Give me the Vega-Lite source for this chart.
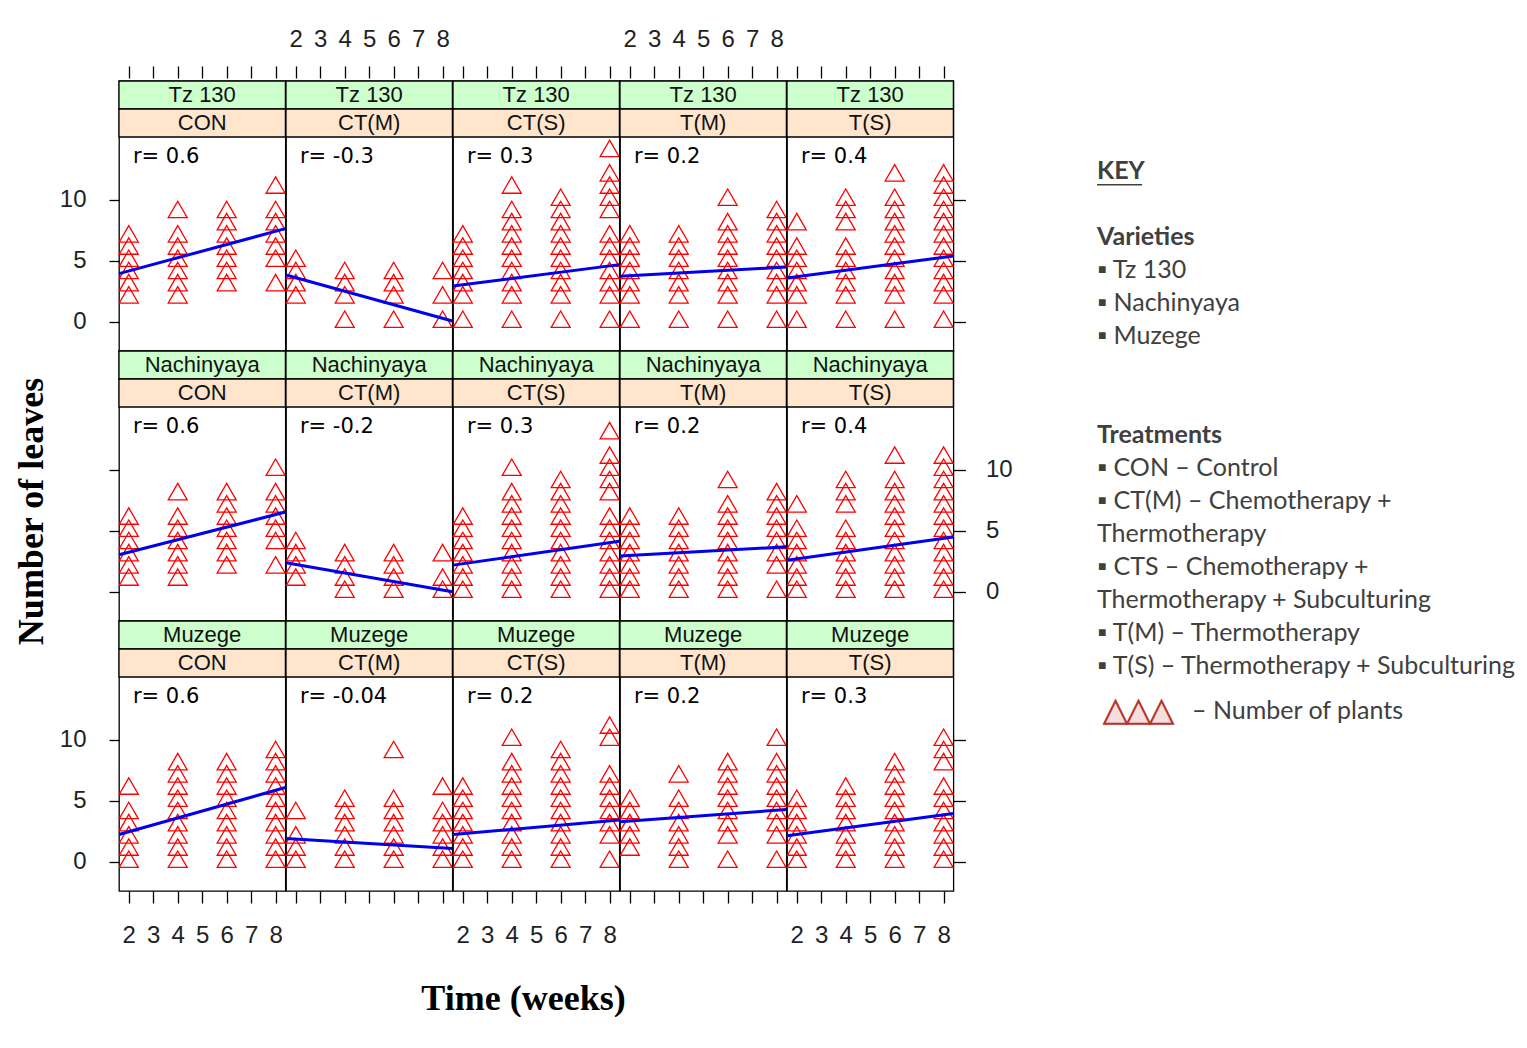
{
"$schema":"https://vega.github.io/schema/vega-lite/v6.json",
"background":"white",
"padding":{"left":12,"top":26,"right":0,"bottom":0},
"spacing":83,
"hconcat":[
{"columns":5,"spacing":0,"bounds":"flush","concat":[
  {"width":166.4,"height":270,"resolve":{"axis":{"x":"independent","y":"independent"}},"layer":[
   {"data":{"values":[{"variety":"Tz 130","treatment":"CON","r":"r= 0.6"}]},"layer":[
    {"mark":{"type":"rect","fill":"#ccffcc","stroke":"#000000","strokeWidth":1.3},"encoding":{"x":{"datum":1.6,"type":"quantitative","axis":null},"x2":{"datum":8.4},"y":{"datum":17.455,"type":"quantitative","axis":null},"y2":{"datum":19.75}}},
    {"mark":{"type":"rect","fill":"#ffe5cc","stroke":"#000000","strokeWidth":1.3},"encoding":{"x":{"datum":1.6,"type":"quantitative","axis":null},"x2":{"datum":8.4},"y":{"datum":15.16,"type":"quantitative","axis":null},"y2":{"datum":17.455}}},
    {"mark":{"type":"text","font":"Liberation Sans","fontSize":22,"color":"#111111","align":"center","baseline":"middle"},"encoding":{"x":{"datum":5,"type":"quantitative","axis":null},"y":{"datum":18.6,"type":"quantitative","axis":null},"text":{"field":"variety"}}},
    {"mark":{"type":"text","font":"Liberation Sans","fontSize":22,"color":"#111111","align":"center","baseline":"middle"},"encoding":{"x":{"datum":5,"type":"quantitative","axis":null},"y":{"datum":16.3,"type":"quantitative","axis":null},"text":{"field":"treatment"}}},
    {"mark":{"type":"text","font":"DejaVu Sans","fontSize":21,"color":"#000000","align":"left","baseline":"middle"},"encoding":{"x":{"datum":2.17,"type":"quantitative","axis":null},"y":{"datum":13.5,"type":"quantitative","axis":null},"text":{"field":"r"}}}
   ]},
   {"data":{"values":[{"week":2,"leaves":2},{"week":2,"leaves":3},{"week":2,"leaves":4},{"week":2,"leaves":5},{"week":2,"leaves":6},{"week":2,"leaves":7},{"week":4,"leaves":2},{"week":4,"leaves":3},{"week":4,"leaves":4},{"week":4,"leaves":5},{"week":4,"leaves":6},{"week":4,"leaves":7},{"week":4,"leaves":9},{"week":6,"leaves":3},{"week":6,"leaves":4},{"week":6,"leaves":5},{"week":6,"leaves":6},{"week":6,"leaves":7},{"week":6,"leaves":8},{"week":6,"leaves":9},{"week":8,"leaves":3},{"week":8,"leaves":5},{"week":8,"leaves":6},{"week":8,"leaves":7},{"week":8,"leaves":8},{"week":8,"leaves":9},{"week":8,"leaves":11}]},
    "mark":{"type":"point","shape":"M0,-1L0.866,0.5L-0.866,0.5Z","size":480,"filled":false,"color":"#ff0000","strokeWidth":1.3,"opacity":1},
    "encoding":{"x":{"field":"week","type":"quantitative","title":null,"scale":{"domain":[1.6,8.4],"nice":false,"zero":false},"axis":{"orient":"top","values":[2,3,4,5,6,7,8],"tickSize":12,"offset":3,"labels":false}},
     "y":{"field":"leaves","type":"quantitative","title":null,"scale":{"domain":[-2.38,19.75],"nice":false,"zero":false},"axis":{"orient":"left","values":[0,5,10],"tickSize":10,"labelPadding":23}}}},
   {"data":{"values":[{"week":1.6,"fit":3.96},{"week":8.4,"fit":7.65}]},"mark":{"type":"line","color":"#0000ee","strokeWidth":3},"encoding":{"x":{"field":"week","type":"quantitative","axis":null},"y":{"field":"fit","type":"quantitative","axis":null}}}
  ]},
  {"width":166.4,"height":270,"resolve":{"axis":{"x":"independent","y":"independent"}},"layer":[
   {"data":{"values":[{"variety":"Tz 130","treatment":"CT(M)","r":"r= -0.3"}]},"layer":[
    {"mark":{"type":"rect","fill":"#ccffcc","stroke":"#000000","strokeWidth":1.3},"encoding":{"x":{"datum":1.6,"type":"quantitative","axis":null},"x2":{"datum":8.4},"y":{"datum":17.455,"type":"quantitative","axis":null},"y2":{"datum":19.75}}},
    {"mark":{"type":"rect","fill":"#ffe5cc","stroke":"#000000","strokeWidth":1.3},"encoding":{"x":{"datum":1.6,"type":"quantitative","axis":null},"x2":{"datum":8.4},"y":{"datum":15.16,"type":"quantitative","axis":null},"y2":{"datum":17.455}}},
    {"mark":{"type":"text","font":"Liberation Sans","fontSize":22,"color":"#111111","align":"center","baseline":"middle"},"encoding":{"x":{"datum":5,"type":"quantitative","axis":null},"y":{"datum":18.6,"type":"quantitative","axis":null},"text":{"field":"variety"}}},
    {"mark":{"type":"text","font":"Liberation Sans","fontSize":22,"color":"#111111","align":"center","baseline":"middle"},"encoding":{"x":{"datum":5,"type":"quantitative","axis":null},"y":{"datum":16.3,"type":"quantitative","axis":null},"text":{"field":"treatment"}}},
    {"mark":{"type":"text","font":"DejaVu Sans","fontSize":21,"color":"#000000","align":"left","baseline":"middle"},"encoding":{"x":{"datum":2.17,"type":"quantitative","axis":null},"y":{"datum":13.5,"type":"quantitative","axis":null},"text":{"field":"r"}}}
   ]},
   {"data":{"values":[{"week":2,"leaves":2},{"week":2,"leaves":3},{"week":2,"leaves":4},{"week":2,"leaves":5},{"week":4,"leaves":0},{"week":4,"leaves":2},{"week":4,"leaves":3},{"week":4,"leaves":4},{"week":6,"leaves":0},{"week":6,"leaves":2},{"week":6,"leaves":3},{"week":6,"leaves":4},{"week":8,"leaves":0},{"week":8,"leaves":2},{"week":8,"leaves":4}]},
    "mark":{"type":"point","shape":"M0,-1L0.866,0.5L-0.866,0.5Z","size":480,"filled":false,"color":"#ff0000","strokeWidth":1.3,"opacity":1},
    "encoding":{"x":{"field":"week","type":"quantitative","title":null,"scale":{"domain":[1.6,8.4],"nice":false,"zero":false},"axis":{"orient":"top","values":[2,3,4,5,6,7,8],"tickSize":12,"offset":3,"labelPadding":15}},
     "y":{"field":"leaves","type":"quantitative","title":null,"scale":{"domain":[-2.38,19.75],"nice":false,"zero":false},"axis":null}}},
   {"data":{"values":[{"week":1.6,"fit":3.85},{"week":8.4,"fit":0.08}]},"mark":{"type":"line","color":"#0000ee","strokeWidth":3},"encoding":{"x":{"field":"week","type":"quantitative","axis":null},"y":{"field":"fit","type":"quantitative","axis":null}}}
  ]},
  {"width":166.4,"height":270,"resolve":{"axis":{"x":"independent","y":"independent"}},"layer":[
   {"data":{"values":[{"variety":"Tz 130","treatment":"CT(S)","r":"r= 0.3"}]},"layer":[
    {"mark":{"type":"rect","fill":"#ccffcc","stroke":"#000000","strokeWidth":1.3},"encoding":{"x":{"datum":1.6,"type":"quantitative","axis":null},"x2":{"datum":8.4},"y":{"datum":17.455,"type":"quantitative","axis":null},"y2":{"datum":19.75}}},
    {"mark":{"type":"rect","fill":"#ffe5cc","stroke":"#000000","strokeWidth":1.3},"encoding":{"x":{"datum":1.6,"type":"quantitative","axis":null},"x2":{"datum":8.4},"y":{"datum":15.16,"type":"quantitative","axis":null},"y2":{"datum":17.455}}},
    {"mark":{"type":"text","font":"Liberation Sans","fontSize":22,"color":"#111111","align":"center","baseline":"middle"},"encoding":{"x":{"datum":5,"type":"quantitative","axis":null},"y":{"datum":18.6,"type":"quantitative","axis":null},"text":{"field":"variety"}}},
    {"mark":{"type":"text","font":"Liberation Sans","fontSize":22,"color":"#111111","align":"center","baseline":"middle"},"encoding":{"x":{"datum":5,"type":"quantitative","axis":null},"y":{"datum":16.3,"type":"quantitative","axis":null},"text":{"field":"treatment"}}},
    {"mark":{"type":"text","font":"DejaVu Sans","fontSize":21,"color":"#000000","align":"left","baseline":"middle"},"encoding":{"x":{"datum":2.17,"type":"quantitative","axis":null},"y":{"datum":13.5,"type":"quantitative","axis":null},"text":{"field":"r"}}}
   ]},
   {"data":{"values":[{"week":2,"leaves":0},{"week":2,"leaves":2},{"week":2,"leaves":3},{"week":2,"leaves":4},{"week":2,"leaves":5},{"week":2,"leaves":6},{"week":2,"leaves":7},{"week":4,"leaves":0},{"week":4,"leaves":2},{"week":4,"leaves":3},{"week":4,"leaves":4},{"week":4,"leaves":5},{"week":4,"leaves":6},{"week":4,"leaves":7},{"week":4,"leaves":8},{"week":4,"leaves":9},{"week":4,"leaves":11},{"week":6,"leaves":0},{"week":6,"leaves":2},{"week":6,"leaves":3},{"week":6,"leaves":4},{"week":6,"leaves":5},{"week":6,"leaves":6},{"week":6,"leaves":7},{"week":6,"leaves":8},{"week":6,"leaves":9},{"week":6,"leaves":10},{"week":8,"leaves":0},{"week":8,"leaves":2},{"week":8,"leaves":3},{"week":8,"leaves":4},{"week":8,"leaves":5},{"week":8,"leaves":6},{"week":8,"leaves":7},{"week":8,"leaves":9},{"week":8,"leaves":10},{"week":8,"leaves":11},{"week":8,"leaves":12},{"week":8,"leaves":14}]},
    "mark":{"type":"point","shape":"M0,-1L0.866,0.5L-0.866,0.5Z","size":480,"filled":false,"color":"#ff0000","strokeWidth":1.3,"opacity":1},
    "encoding":{"x":{"field":"week","type":"quantitative","title":null,"scale":{"domain":[1.6,8.4],"nice":false,"zero":false},"axis":{"orient":"top","values":[2,3,4,5,6,7,8],"tickSize":12,"offset":3,"labels":false}},
     "y":{"field":"leaves","type":"quantitative","title":null,"scale":{"domain":[-2.38,19.75],"nice":false,"zero":false},"axis":null}}},
   {"data":{"values":[{"week":1.6,"fit":2.95},{"week":8.4,"fit":4.7}]},"mark":{"type":"line","color":"#0000ee","strokeWidth":3},"encoding":{"x":{"field":"week","type":"quantitative","axis":null},"y":{"field":"fit","type":"quantitative","axis":null}}}
  ]},
  {"width":166.4,"height":270,"resolve":{"axis":{"x":"independent","y":"independent"}},"layer":[
   {"data":{"values":[{"variety":"Tz 130","treatment":"T(M)","r":"r= 0.2"}]},"layer":[
    {"mark":{"type":"rect","fill":"#ccffcc","stroke":"#000000","strokeWidth":1.3},"encoding":{"x":{"datum":1.6,"type":"quantitative","axis":null},"x2":{"datum":8.4},"y":{"datum":17.455,"type":"quantitative","axis":null},"y2":{"datum":19.75}}},
    {"mark":{"type":"rect","fill":"#ffe5cc","stroke":"#000000","strokeWidth":1.3},"encoding":{"x":{"datum":1.6,"type":"quantitative","axis":null},"x2":{"datum":8.4},"y":{"datum":15.16,"type":"quantitative","axis":null},"y2":{"datum":17.455}}},
    {"mark":{"type":"text","font":"Liberation Sans","fontSize":22,"color":"#111111","align":"center","baseline":"middle"},"encoding":{"x":{"datum":5,"type":"quantitative","axis":null},"y":{"datum":18.6,"type":"quantitative","axis":null},"text":{"field":"variety"}}},
    {"mark":{"type":"text","font":"Liberation Sans","fontSize":22,"color":"#111111","align":"center","baseline":"middle"},"encoding":{"x":{"datum":5,"type":"quantitative","axis":null},"y":{"datum":16.3,"type":"quantitative","axis":null},"text":{"field":"treatment"}}},
    {"mark":{"type":"text","font":"DejaVu Sans","fontSize":21,"color":"#000000","align":"left","baseline":"middle"},"encoding":{"x":{"datum":2.17,"type":"quantitative","axis":null},"y":{"datum":13.5,"type":"quantitative","axis":null},"text":{"field":"r"}}}
   ]},
   {"data":{"values":[{"week":2,"leaves":0},{"week":2,"leaves":2},{"week":2,"leaves":3},{"week":2,"leaves":4},{"week":2,"leaves":5},{"week":2,"leaves":6},{"week":2,"leaves":7},{"week":4,"leaves":0},{"week":4,"leaves":2},{"week":4,"leaves":3},{"week":4,"leaves":4},{"week":4,"leaves":5},{"week":4,"leaves":6},{"week":4,"leaves":7},{"week":6,"leaves":0},{"week":6,"leaves":2},{"week":6,"leaves":3},{"week":6,"leaves":4},{"week":6,"leaves":5},{"week":6,"leaves":6},{"week":6,"leaves":7},{"week":6,"leaves":8},{"week":6,"leaves":10},{"week":8,"leaves":0},{"week":8,"leaves":2},{"week":8,"leaves":3},{"week":8,"leaves":4},{"week":8,"leaves":5},{"week":8,"leaves":6},{"week":8,"leaves":7},{"week":8,"leaves":8},{"week":8,"leaves":9}]},
    "mark":{"type":"point","shape":"M0,-1L0.866,0.5L-0.866,0.5Z","size":480,"filled":false,"color":"#ff0000","strokeWidth":1.3,"opacity":1},
    "encoding":{"x":{"field":"week","type":"quantitative","title":null,"scale":{"domain":[1.6,8.4],"nice":false,"zero":false},"axis":{"orient":"top","values":[2,3,4,5,6,7,8],"tickSize":12,"offset":3,"labelPadding":15}},
     "y":{"field":"leaves","type":"quantitative","title":null,"scale":{"domain":[-2.38,19.75],"nice":false,"zero":false},"axis":null}}},
   {"data":{"values":[{"week":1.6,"fit":3.75},{"week":8.4,"fit":4.5}]},"mark":{"type":"line","color":"#0000ee","strokeWidth":3},"encoding":{"x":{"field":"week","type":"quantitative","axis":null},"y":{"field":"fit","type":"quantitative","axis":null}}}
  ]},
  {"width":166.4,"height":270,"resolve":{"axis":{"x":"independent","y":"independent"}},"layer":[
   {"data":{"values":[{"variety":"Tz 130","treatment":"T(S)","r":"r= 0.4"}]},"layer":[
    {"mark":{"type":"rect","fill":"#ccffcc","stroke":"#000000","strokeWidth":1.3},"encoding":{"x":{"datum":1.6,"type":"quantitative","axis":null},"x2":{"datum":8.4},"y":{"datum":17.455,"type":"quantitative","axis":null},"y2":{"datum":19.75}}},
    {"mark":{"type":"rect","fill":"#ffe5cc","stroke":"#000000","strokeWidth":1.3},"encoding":{"x":{"datum":1.6,"type":"quantitative","axis":null},"x2":{"datum":8.4},"y":{"datum":15.16,"type":"quantitative","axis":null},"y2":{"datum":17.455}}},
    {"mark":{"type":"text","font":"Liberation Sans","fontSize":22,"color":"#111111","align":"center","baseline":"middle"},"encoding":{"x":{"datum":5,"type":"quantitative","axis":null},"y":{"datum":18.6,"type":"quantitative","axis":null},"text":{"field":"variety"}}},
    {"mark":{"type":"text","font":"Liberation Sans","fontSize":22,"color":"#111111","align":"center","baseline":"middle"},"encoding":{"x":{"datum":5,"type":"quantitative","axis":null},"y":{"datum":16.3,"type":"quantitative","axis":null},"text":{"field":"treatment"}}},
    {"mark":{"type":"text","font":"DejaVu Sans","fontSize":21,"color":"#000000","align":"left","baseline":"middle"},"encoding":{"x":{"datum":2.17,"type":"quantitative","axis":null},"y":{"datum":13.5,"type":"quantitative","axis":null},"text":{"field":"r"}}}
   ]},
   {"data":{"values":[{"week":2,"leaves":0},{"week":2,"leaves":2},{"week":2,"leaves":3},{"week":2,"leaves":4},{"week":2,"leaves":5},{"week":2,"leaves":6},{"week":2,"leaves":8},{"week":4,"leaves":0},{"week":4,"leaves":2},{"week":4,"leaves":3},{"week":4,"leaves":4},{"week":4,"leaves":5},{"week":4,"leaves":6},{"week":4,"leaves":8},{"week":4,"leaves":9},{"week":4,"leaves":10},{"week":6,"leaves":0},{"week":6,"leaves":2},{"week":6,"leaves":3},{"week":6,"leaves":4},{"week":6,"leaves":5},{"week":6,"leaves":6},{"week":6,"leaves":7},{"week":6,"leaves":8},{"week":6,"leaves":9},{"week":6,"leaves":10},{"week":6,"leaves":12},{"week":8,"leaves":0},{"week":8,"leaves":2},{"week":8,"leaves":3},{"week":8,"leaves":4},{"week":8,"leaves":5},{"week":8,"leaves":6},{"week":8,"leaves":7},{"week":8,"leaves":8},{"week":8,"leaves":9},{"week":8,"leaves":10},{"week":8,"leaves":11},{"week":8,"leaves":12}]},
    "mark":{"type":"point","shape":"M0,-1L0.866,0.5L-0.866,0.5Z","size":480,"filled":false,"color":"#ff0000","strokeWidth":1.3,"opacity":1},
    "encoding":{"x":{"field":"week","type":"quantitative","title":null,"scale":{"domain":[1.6,8.4],"nice":false,"zero":false},"axis":{"orient":"top","values":[2,3,4,5,6,7,8],"tickSize":12,"offset":3,"labels":false}},
     "y":{"field":"leaves","type":"quantitative","title":null,"scale":{"domain":[-2.38,19.75],"nice":false,"zero":false},"axis":{"orient":"right","values":[0,5,10],"tickSize":12,"labels":false}}}},
   {"data":{"values":[{"week":1.6,"fit":3.6},{"week":8.4,"fit":5.4}]},"mark":{"type":"line","color":"#0000ee","strokeWidth":3},"encoding":{"x":{"field":"week","type":"quantitative","axis":null},"y":{"field":"fit","type":"quantitative","axis":null}}}
  ]},
  {"width":166.4,"height":270,"resolve":{"axis":{"x":"independent","y":"independent"}},"layer":[
   {"data":{"values":[{"variety":"Nachinyaya","treatment":"CON","r":"r= 0.6"}]},"layer":[
    {"mark":{"type":"rect","fill":"#ccffcc","stroke":"#000000","strokeWidth":1.3},"encoding":{"x":{"datum":1.6,"type":"quantitative","axis":null},"x2":{"datum":8.4},"y":{"datum":17.455,"type":"quantitative","axis":null},"y2":{"datum":19.75}}},
    {"mark":{"type":"rect","fill":"#ffe5cc","stroke":"#000000","strokeWidth":1.3},"encoding":{"x":{"datum":1.6,"type":"quantitative","axis":null},"x2":{"datum":8.4},"y":{"datum":15.16,"type":"quantitative","axis":null},"y2":{"datum":17.455}}},
    {"mark":{"type":"text","font":"Liberation Sans","fontSize":22,"color":"#111111","align":"center","baseline":"middle"},"encoding":{"x":{"datum":5,"type":"quantitative","axis":null},"y":{"datum":18.6,"type":"quantitative","axis":null},"text":{"field":"variety"}}},
    {"mark":{"type":"text","font":"Liberation Sans","fontSize":22,"color":"#111111","align":"center","baseline":"middle"},"encoding":{"x":{"datum":5,"type":"quantitative","axis":null},"y":{"datum":16.3,"type":"quantitative","axis":null},"text":{"field":"treatment"}}},
    {"mark":{"type":"text","font":"DejaVu Sans","fontSize":21,"color":"#000000","align":"left","baseline":"middle"},"encoding":{"x":{"datum":2.17,"type":"quantitative","axis":null},"y":{"datum":13.5,"type":"quantitative","axis":null},"text":{"field":"r"}}}
   ]},
   {"data":{"values":[{"week":2,"leaves":1},{"week":2,"leaves":2},{"week":2,"leaves":3},{"week":2,"leaves":4},{"week":2,"leaves":5},{"week":2,"leaves":6},{"week":4,"leaves":1},{"week":4,"leaves":2},{"week":4,"leaves":3},{"week":4,"leaves":4},{"week":4,"leaves":5},{"week":4,"leaves":6},{"week":4,"leaves":8},{"week":6,"leaves":2},{"week":6,"leaves":3},{"week":6,"leaves":4},{"week":6,"leaves":5},{"week":6,"leaves":6},{"week":6,"leaves":7},{"week":6,"leaves":8},{"week":8,"leaves":2},{"week":8,"leaves":4},{"week":8,"leaves":5},{"week":8,"leaves":6},{"week":8,"leaves":7},{"week":8,"leaves":8},{"week":8,"leaves":10}]},
    "mark":{"type":"point","shape":"M0,-1L0.866,0.5L-0.866,0.5Z","size":480,"filled":false,"color":"#ff0000","strokeWidth":1.3,"opacity":1},
    "encoding":{"x":{"field":"week","type":"quantitative","title":null,"scale":{"domain":[1.6,8.4],"nice":false,"zero":false},"axis":null},
     "y":{"field":"leaves","type":"quantitative","title":null,"scale":{"domain":[-2.38,19.75],"nice":false,"zero":false},"axis":{"orient":"left","values":[0,5,10],"tickSize":10,"labels":false,"title":"Number of leaves","titleFont":"Liberation Serif","titleFontSize":36,"titleFontWeight":"bold","titleColor":"#000000","titleX":-88,"titleY":160,"titleAngle":-90,"titleAlign":"center","titleBaseline":"middle"}}}},
   {"data":{"values":[{"week":1.6,"fit":3.05},{"week":8.4,"fit":6.55}]},"mark":{"type":"line","color":"#0000ee","strokeWidth":3},"encoding":{"x":{"field":"week","type":"quantitative","axis":null},"y":{"field":"fit","type":"quantitative","axis":null}}}
  ]},
  {"width":166.4,"height":270,"resolve":{"axis":{"x":"independent","y":"independent"}},"layer":[
   {"data":{"values":[{"variety":"Nachinyaya","treatment":"CT(M)","r":"r= -0.2"}]},"layer":[
    {"mark":{"type":"rect","fill":"#ccffcc","stroke":"#000000","strokeWidth":1.3},"encoding":{"x":{"datum":1.6,"type":"quantitative","axis":null},"x2":{"datum":8.4},"y":{"datum":17.455,"type":"quantitative","axis":null},"y2":{"datum":19.75}}},
    {"mark":{"type":"rect","fill":"#ffe5cc","stroke":"#000000","strokeWidth":1.3},"encoding":{"x":{"datum":1.6,"type":"quantitative","axis":null},"x2":{"datum":8.4},"y":{"datum":15.16,"type":"quantitative","axis":null},"y2":{"datum":17.455}}},
    {"mark":{"type":"text","font":"Liberation Sans","fontSize":22,"color":"#111111","align":"center","baseline":"middle"},"encoding":{"x":{"datum":5,"type":"quantitative","axis":null},"y":{"datum":18.6,"type":"quantitative","axis":null},"text":{"field":"variety"}}},
    {"mark":{"type":"text","font":"Liberation Sans","fontSize":22,"color":"#111111","align":"center","baseline":"middle"},"encoding":{"x":{"datum":5,"type":"quantitative","axis":null},"y":{"datum":16.3,"type":"quantitative","axis":null},"text":{"field":"treatment"}}},
    {"mark":{"type":"text","font":"DejaVu Sans","fontSize":21,"color":"#000000","align":"left","baseline":"middle"},"encoding":{"x":{"datum":2.17,"type":"quantitative","axis":null},"y":{"datum":13.5,"type":"quantitative","axis":null},"text":{"field":"r"}}}
   ]},
   {"data":{"values":[{"week":2,"leaves":1},{"week":2,"leaves":2},{"week":2,"leaves":3},{"week":2,"leaves":4},{"week":4,"leaves":0},{"week":4,"leaves":1},{"week":4,"leaves":2},{"week":4,"leaves":3},{"week":6,"leaves":0},{"week":6,"leaves":1},{"week":6,"leaves":2},{"week":6,"leaves":3},{"week":8,"leaves":0},{"week":8,"leaves":1},{"week":8,"leaves":3}]},
    "mark":{"type":"point","shape":"M0,-1L0.866,0.5L-0.866,0.5Z","size":480,"filled":false,"color":"#ff0000","strokeWidth":1.3,"opacity":1},
    "encoding":{"x":{"field":"week","type":"quantitative","title":null,"scale":{"domain":[1.6,8.4],"nice":false,"zero":false},"axis":null},
     "y":{"field":"leaves","type":"quantitative","title":null,"scale":{"domain":[-2.38,19.75],"nice":false,"zero":false},"axis":null}}},
   {"data":{"values":[{"week":1.6,"fit":2.4},{"week":8.4,"fit":0.02}]},"mark":{"type":"line","color":"#0000ee","strokeWidth":3},"encoding":{"x":{"field":"week","type":"quantitative","axis":null},"y":{"field":"fit","type":"quantitative","axis":null}}}
  ]},
  {"width":166.4,"height":270,"resolve":{"axis":{"x":"independent","y":"independent"}},"layer":[
   {"data":{"values":[{"variety":"Nachinyaya","treatment":"CT(S)","r":"r= 0.3"}]},"layer":[
    {"mark":{"type":"rect","fill":"#ccffcc","stroke":"#000000","strokeWidth":1.3},"encoding":{"x":{"datum":1.6,"type":"quantitative","axis":null},"x2":{"datum":8.4},"y":{"datum":17.455,"type":"quantitative","axis":null},"y2":{"datum":19.75}}},
    {"mark":{"type":"rect","fill":"#ffe5cc","stroke":"#000000","strokeWidth":1.3},"encoding":{"x":{"datum":1.6,"type":"quantitative","axis":null},"x2":{"datum":8.4},"y":{"datum":15.16,"type":"quantitative","axis":null},"y2":{"datum":17.455}}},
    {"mark":{"type":"text","font":"Liberation Sans","fontSize":22,"color":"#111111","align":"center","baseline":"middle"},"encoding":{"x":{"datum":5,"type":"quantitative","axis":null},"y":{"datum":18.6,"type":"quantitative","axis":null},"text":{"field":"variety"}}},
    {"mark":{"type":"text","font":"Liberation Sans","fontSize":22,"color":"#111111","align":"center","baseline":"middle"},"encoding":{"x":{"datum":5,"type":"quantitative","axis":null},"y":{"datum":16.3,"type":"quantitative","axis":null},"text":{"field":"treatment"}}},
    {"mark":{"type":"text","font":"DejaVu Sans","fontSize":21,"color":"#000000","align":"left","baseline":"middle"},"encoding":{"x":{"datum":2.17,"type":"quantitative","axis":null},"y":{"datum":13.5,"type":"quantitative","axis":null},"text":{"field":"r"}}}
   ]},
   {"data":{"values":[{"week":2,"leaves":0},{"week":2,"leaves":1},{"week":2,"leaves":2},{"week":2,"leaves":3},{"week":2,"leaves":4},{"week":2,"leaves":5},{"week":2,"leaves":6},{"week":4,"leaves":0},{"week":4,"leaves":1},{"week":4,"leaves":2},{"week":4,"leaves":3},{"week":4,"leaves":4},{"week":4,"leaves":5},{"week":4,"leaves":6},{"week":4,"leaves":7},{"week":4,"leaves":8},{"week":4,"leaves":10},{"week":6,"leaves":0},{"week":6,"leaves":1},{"week":6,"leaves":2},{"week":6,"leaves":3},{"week":6,"leaves":4},{"week":6,"leaves":5},{"week":6,"leaves":6},{"week":6,"leaves":7},{"week":6,"leaves":8},{"week":6,"leaves":9},{"week":8,"leaves":0},{"week":8,"leaves":1},{"week":8,"leaves":2},{"week":8,"leaves":3},{"week":8,"leaves":4},{"week":8,"leaves":5},{"week":8,"leaves":6},{"week":8,"leaves":8},{"week":8,"leaves":9},{"week":8,"leaves":10},{"week":8,"leaves":11},{"week":8,"leaves":13}]},
    "mark":{"type":"point","shape":"M0,-1L0.866,0.5L-0.866,0.5Z","size":480,"filled":false,"color":"#ff0000","strokeWidth":1.3,"opacity":1},
    "encoding":{"x":{"field":"week","type":"quantitative","title":null,"scale":{"domain":[1.6,8.4],"nice":false,"zero":false},"axis":null},
     "y":{"field":"leaves","type":"quantitative","title":null,"scale":{"domain":[-2.38,19.75],"nice":false,"zero":false},"axis":null}}},
   {"data":{"values":[{"week":1.6,"fit":2.2},{"week":8.4,"fit":4.15}]},"mark":{"type":"line","color":"#0000ee","strokeWidth":3},"encoding":{"x":{"field":"week","type":"quantitative","axis":null},"y":{"field":"fit","type":"quantitative","axis":null}}}
  ]},
  {"width":166.4,"height":270,"resolve":{"axis":{"x":"independent","y":"independent"}},"layer":[
   {"data":{"values":[{"variety":"Nachinyaya","treatment":"T(M)","r":"r= 0.2"}]},"layer":[
    {"mark":{"type":"rect","fill":"#ccffcc","stroke":"#000000","strokeWidth":1.3},"encoding":{"x":{"datum":1.6,"type":"quantitative","axis":null},"x2":{"datum":8.4},"y":{"datum":17.455,"type":"quantitative","axis":null},"y2":{"datum":19.75}}},
    {"mark":{"type":"rect","fill":"#ffe5cc","stroke":"#000000","strokeWidth":1.3},"encoding":{"x":{"datum":1.6,"type":"quantitative","axis":null},"x2":{"datum":8.4},"y":{"datum":15.16,"type":"quantitative","axis":null},"y2":{"datum":17.455}}},
    {"mark":{"type":"text","font":"Liberation Sans","fontSize":22,"color":"#111111","align":"center","baseline":"middle"},"encoding":{"x":{"datum":5,"type":"quantitative","axis":null},"y":{"datum":18.6,"type":"quantitative","axis":null},"text":{"field":"variety"}}},
    {"mark":{"type":"text","font":"Liberation Sans","fontSize":22,"color":"#111111","align":"center","baseline":"middle"},"encoding":{"x":{"datum":5,"type":"quantitative","axis":null},"y":{"datum":16.3,"type":"quantitative","axis":null},"text":{"field":"treatment"}}},
    {"mark":{"type":"text","font":"DejaVu Sans","fontSize":21,"color":"#000000","align":"left","baseline":"middle"},"encoding":{"x":{"datum":2.17,"type":"quantitative","axis":null},"y":{"datum":13.5,"type":"quantitative","axis":null},"text":{"field":"r"}}}
   ]},
   {"data":{"values":[{"week":2,"leaves":0},{"week":2,"leaves":1},{"week":2,"leaves":2},{"week":2,"leaves":3},{"week":2,"leaves":4},{"week":2,"leaves":5},{"week":2,"leaves":6},{"week":4,"leaves":0},{"week":4,"leaves":1},{"week":4,"leaves":2},{"week":4,"leaves":3},{"week":4,"leaves":4},{"week":4,"leaves":5},{"week":4,"leaves":6},{"week":6,"leaves":0},{"week":6,"leaves":1},{"week":6,"leaves":2},{"week":6,"leaves":3},{"week":6,"leaves":4},{"week":6,"leaves":5},{"week":6,"leaves":6},{"week":6,"leaves":7},{"week":6,"leaves":9},{"week":8,"leaves":0},{"week":8,"leaves":2},{"week":8,"leaves":3},{"week":8,"leaves":4},{"week":8,"leaves":5},{"week":8,"leaves":6},{"week":8,"leaves":7},{"week":8,"leaves":8}]},
    "mark":{"type":"point","shape":"M0,-1L0.866,0.5L-0.866,0.5Z","size":480,"filled":false,"color":"#ff0000","strokeWidth":1.3,"opacity":1},
    "encoding":{"x":{"field":"week","type":"quantitative","title":null,"scale":{"domain":[1.6,8.4],"nice":false,"zero":false},"axis":null},
     "y":{"field":"leaves","type":"quantitative","title":null,"scale":{"domain":[-2.38,19.75],"nice":false,"zero":false},"axis":null}}},
   {"data":{"values":[{"week":1.6,"fit":2.95},{"week":8.4,"fit":3.7}]},"mark":{"type":"line","color":"#0000ee","strokeWidth":3},"encoding":{"x":{"field":"week","type":"quantitative","axis":null},"y":{"field":"fit","type":"quantitative","axis":null}}}
  ]},
  {"width":166.4,"height":270,"resolve":{"axis":{"x":"independent","y":"independent"}},"layer":[
   {"data":{"values":[{"variety":"Nachinyaya","treatment":"T(S)","r":"r= 0.4"}]},"layer":[
    {"mark":{"type":"rect","fill":"#ccffcc","stroke":"#000000","strokeWidth":1.3},"encoding":{"x":{"datum":1.6,"type":"quantitative","axis":null},"x2":{"datum":8.4},"y":{"datum":17.455,"type":"quantitative","axis":null},"y2":{"datum":19.75}}},
    {"mark":{"type":"rect","fill":"#ffe5cc","stroke":"#000000","strokeWidth":1.3},"encoding":{"x":{"datum":1.6,"type":"quantitative","axis":null},"x2":{"datum":8.4},"y":{"datum":15.16,"type":"quantitative","axis":null},"y2":{"datum":17.455}}},
    {"mark":{"type":"text","font":"Liberation Sans","fontSize":22,"color":"#111111","align":"center","baseline":"middle"},"encoding":{"x":{"datum":5,"type":"quantitative","axis":null},"y":{"datum":18.6,"type":"quantitative","axis":null},"text":{"field":"variety"}}},
    {"mark":{"type":"text","font":"Liberation Sans","fontSize":22,"color":"#111111","align":"center","baseline":"middle"},"encoding":{"x":{"datum":5,"type":"quantitative","axis":null},"y":{"datum":16.3,"type":"quantitative","axis":null},"text":{"field":"treatment"}}},
    {"mark":{"type":"text","font":"DejaVu Sans","fontSize":21,"color":"#000000","align":"left","baseline":"middle"},"encoding":{"x":{"datum":2.17,"type":"quantitative","axis":null},"y":{"datum":13.5,"type":"quantitative","axis":null},"text":{"field":"r"}}}
   ]},
   {"data":{"values":[{"week":2,"leaves":0},{"week":2,"leaves":1},{"week":2,"leaves":2},{"week":2,"leaves":3},{"week":2,"leaves":4},{"week":2,"leaves":5},{"week":2,"leaves":7},{"week":4,"leaves":0},{"week":4,"leaves":1},{"week":4,"leaves":2},{"week":4,"leaves":3},{"week":4,"leaves":4},{"week":4,"leaves":5},{"week":4,"leaves":7},{"week":4,"leaves":8},{"week":4,"leaves":9},{"week":6,"leaves":0},{"week":6,"leaves":1},{"week":6,"leaves":2},{"week":6,"leaves":3},{"week":6,"leaves":4},{"week":6,"leaves":5},{"week":6,"leaves":6},{"week":6,"leaves":7},{"week":6,"leaves":8},{"week":6,"leaves":9},{"week":6,"leaves":11},{"week":8,"leaves":0},{"week":8,"leaves":1},{"week":8,"leaves":2},{"week":8,"leaves":3},{"week":8,"leaves":4},{"week":8,"leaves":5},{"week":8,"leaves":6},{"week":8,"leaves":7},{"week":8,"leaves":8},{"week":8,"leaves":9},{"week":8,"leaves":10},{"week":8,"leaves":11}]},
    "mark":{"type":"point","shape":"M0,-1L0.866,0.5L-0.866,0.5Z","size":480,"filled":false,"color":"#ff0000","strokeWidth":1.3,"opacity":1},
    "encoding":{"x":{"field":"week","type":"quantitative","title":null,"scale":{"domain":[1.6,8.4],"nice":false,"zero":false},"axis":null},
     "y":{"field":"leaves","type":"quantitative","title":null,"scale":{"domain":[-2.38,19.75],"nice":false,"zero":false},"axis":{"orient":"right","values":[0,5,10],"tickSize":12,"labelPadding":20}}}},
   {"data":{"values":[{"week":1.6,"fit":2.6},{"week":8.4,"fit":4.5}]},"mark":{"type":"line","color":"#0000ee","strokeWidth":3},"encoding":{"x":{"field":"week","type":"quantitative","axis":null},"y":{"field":"fit","type":"quantitative","axis":null}}}
  ]},
  {"width":166.4,"height":270,"resolve":{"axis":{"x":"independent","y":"independent"}},"layer":[
   {"data":{"values":[{"variety":"Muzege","treatment":"CON","r":"r= 0.6"}]},"layer":[
    {"mark":{"type":"rect","fill":"#ccffcc","stroke":"#000000","strokeWidth":1.3},"encoding":{"x":{"datum":1.6,"type":"quantitative","axis":null},"x2":{"datum":8.4},"y":{"datum":17.455,"type":"quantitative","axis":null},"y2":{"datum":19.75}}},
    {"mark":{"type":"rect","fill":"#ffe5cc","stroke":"#000000","strokeWidth":1.3},"encoding":{"x":{"datum":1.6,"type":"quantitative","axis":null},"x2":{"datum":8.4},"y":{"datum":15.16,"type":"quantitative","axis":null},"y2":{"datum":17.455}}},
    {"mark":{"type":"text","font":"Liberation Sans","fontSize":22,"color":"#111111","align":"center","baseline":"middle"},"encoding":{"x":{"datum":5,"type":"quantitative","axis":null},"y":{"datum":18.6,"type":"quantitative","axis":null},"text":{"field":"variety"}}},
    {"mark":{"type":"text","font":"Liberation Sans","fontSize":22,"color":"#111111","align":"center","baseline":"middle"},"encoding":{"x":{"datum":5,"type":"quantitative","axis":null},"y":{"datum":16.3,"type":"quantitative","axis":null},"text":{"field":"treatment"}}},
    {"mark":{"type":"text","font":"DejaVu Sans","fontSize":21,"color":"#000000","align":"left","baseline":"middle"},"encoding":{"x":{"datum":2.17,"type":"quantitative","axis":null},"y":{"datum":13.5,"type":"quantitative","axis":null},"text":{"field":"r"}}}
   ]},
   {"data":{"values":[{"week":2,"leaves":0},{"week":2,"leaves":1},{"week":2,"leaves":2},{"week":2,"leaves":3},{"week":2,"leaves":4},{"week":2,"leaves":6},{"week":4,"leaves":0},{"week":4,"leaves":1},{"week":4,"leaves":2},{"week":4,"leaves":3},{"week":4,"leaves":4},{"week":4,"leaves":5},{"week":4,"leaves":6},{"week":4,"leaves":7},{"week":4,"leaves":8},{"week":6,"leaves":0},{"week":6,"leaves":1},{"week":6,"leaves":2},{"week":6,"leaves":3},{"week":6,"leaves":4},{"week":6,"leaves":5},{"week":6,"leaves":6},{"week":6,"leaves":7},{"week":6,"leaves":8},{"week":8,"leaves":0},{"week":8,"leaves":1},{"week":8,"leaves":2},{"week":8,"leaves":3},{"week":8,"leaves":4},{"week":8,"leaves":5},{"week":8,"leaves":6},{"week":8,"leaves":7},{"week":8,"leaves":8},{"week":8,"leaves":9}]},
    "mark":{"type":"point","shape":"M0,-1L0.866,0.5L-0.866,0.5Z","size":480,"filled":false,"color":"#ff0000","strokeWidth":1.3,"opacity":1},
    "encoding":{"x":{"field":"week","type":"quantitative","title":null,"scale":{"domain":[1.6,8.4],"nice":false,"zero":false},"axis":{"orient":"bottom","values":[2,3,4,5,6,7,8],"tickSize":12,"labelPadding":20}},
     "y":{"field":"leaves","type":"quantitative","title":null,"scale":{"domain":[-2.38,19.75],"nice":false,"zero":false},"axis":{"orient":"left","values":[0,5,10],"tickSize":10,"labelPadding":23}}}},
   {"data":{"values":[{"week":1.6,"fit":2.25},{"week":8.4,"fit":6.1}]},"mark":{"type":"line","color":"#0000ee","strokeWidth":3},"encoding":{"x":{"field":"week","type":"quantitative","axis":null},"y":{"field":"fit","type":"quantitative","axis":null}}}
  ]},
  {"width":166.4,"height":270,"resolve":{"axis":{"x":"independent","y":"independent"}},"layer":[
   {"data":{"values":[{"variety":"Muzege","treatment":"CT(M)","r":"r= -0.04"}]},"layer":[
    {"mark":{"type":"rect","fill":"#ccffcc","stroke":"#000000","strokeWidth":1.3},"encoding":{"x":{"datum":1.6,"type":"quantitative","axis":null},"x2":{"datum":8.4},"y":{"datum":17.455,"type":"quantitative","axis":null},"y2":{"datum":19.75}}},
    {"mark":{"type":"rect","fill":"#ffe5cc","stroke":"#000000","strokeWidth":1.3},"encoding":{"x":{"datum":1.6,"type":"quantitative","axis":null},"x2":{"datum":8.4},"y":{"datum":15.16,"type":"quantitative","axis":null},"y2":{"datum":17.455}}},
    {"mark":{"type":"text","font":"Liberation Sans","fontSize":22,"color":"#111111","align":"center","baseline":"middle"},"encoding":{"x":{"datum":5,"type":"quantitative","axis":null},"y":{"datum":18.6,"type":"quantitative","axis":null},"text":{"field":"variety"}}},
    {"mark":{"type":"text","font":"Liberation Sans","fontSize":22,"color":"#111111","align":"center","baseline":"middle"},"encoding":{"x":{"datum":5,"type":"quantitative","axis":null},"y":{"datum":16.3,"type":"quantitative","axis":null},"text":{"field":"treatment"}}},
    {"mark":{"type":"text","font":"DejaVu Sans","fontSize":21,"color":"#000000","align":"left","baseline":"middle"},"encoding":{"x":{"datum":2.17,"type":"quantitative","axis":null},"y":{"datum":13.5,"type":"quantitative","axis":null},"text":{"field":"r"}}}
   ]},
   {"data":{"values":[{"week":2,"leaves":0},{"week":2,"leaves":1},{"week":2,"leaves":2},{"week":2,"leaves":4},{"week":4,"leaves":0},{"week":4,"leaves":1},{"week":4,"leaves":2},{"week":4,"leaves":3},{"week":4,"leaves":4},{"week":4,"leaves":5},{"week":6,"leaves":0},{"week":6,"leaves":1},{"week":6,"leaves":2},{"week":6,"leaves":3},{"week":6,"leaves":4},{"week":6,"leaves":5},{"week":6,"leaves":9},{"week":8,"leaves":0},{"week":8,"leaves":1},{"week":8,"leaves":2},{"week":8,"leaves":3},{"week":8,"leaves":4},{"week":8,"leaves":6}]},
    "mark":{"type":"point","shape":"M0,-1L0.866,0.5L-0.866,0.5Z","size":480,"filled":false,"color":"#ff0000","strokeWidth":1.3,"opacity":1},
    "encoding":{"x":{"field":"week","type":"quantitative","title":null,"scale":{"domain":[1.6,8.4],"nice":false,"zero":false},"axis":{"orient":"bottom","values":[2,3,4,5,6,7,8],"tickSize":12,"labels":false}},
     "y":{"field":"leaves","type":"quantitative","title":null,"scale":{"domain":[-2.38,19.75],"nice":false,"zero":false},"axis":null}}},
   {"data":{"values":[{"week":1.6,"fit":1.92},{"week":8.4,"fit":1.1}]},"mark":{"type":"line","color":"#0000ee","strokeWidth":3},"encoding":{"x":{"field":"week","type":"quantitative","axis":null},"y":{"field":"fit","type":"quantitative","axis":null}}}
  ]},
  {"width":166.4,"height":270,"resolve":{"axis":{"x":"independent","y":"independent"}},"layer":[
   {"data":{"values":[{"variety":"Muzege","treatment":"CT(S)","r":"r= 0.2"}]},"layer":[
    {"mark":{"type":"rect","fill":"#ccffcc","stroke":"#000000","strokeWidth":1.3},"encoding":{"x":{"datum":1.6,"type":"quantitative","axis":null},"x2":{"datum":8.4},"y":{"datum":17.455,"type":"quantitative","axis":null},"y2":{"datum":19.75}}},
    {"mark":{"type":"rect","fill":"#ffe5cc","stroke":"#000000","strokeWidth":1.3},"encoding":{"x":{"datum":1.6,"type":"quantitative","axis":null},"x2":{"datum":8.4},"y":{"datum":15.16,"type":"quantitative","axis":null},"y2":{"datum":17.455}}},
    {"mark":{"type":"text","font":"Liberation Sans","fontSize":22,"color":"#111111","align":"center","baseline":"middle"},"encoding":{"x":{"datum":5,"type":"quantitative","axis":null},"y":{"datum":18.6,"type":"quantitative","axis":null},"text":{"field":"variety"}}},
    {"mark":{"type":"text","font":"Liberation Sans","fontSize":22,"color":"#111111","align":"center","baseline":"middle"},"encoding":{"x":{"datum":5,"type":"quantitative","axis":null},"y":{"datum":16.3,"type":"quantitative","axis":null},"text":{"field":"treatment"}}},
    {"mark":{"type":"text","font":"DejaVu Sans","fontSize":21,"color":"#000000","align":"left","baseline":"middle"},"encoding":{"x":{"datum":2.17,"type":"quantitative","axis":null},"y":{"datum":13.5,"type":"quantitative","axis":null},"text":{"field":"r"}}}
   ]},
   {"data":{"values":[{"week":2,"leaves":0},{"week":2,"leaves":1},{"week":2,"leaves":2},{"week":2,"leaves":3},{"week":2,"leaves":4},{"week":2,"leaves":5},{"week":2,"leaves":6},{"week":4,"leaves":0},{"week":4,"leaves":1},{"week":4,"leaves":2},{"week":4,"leaves":3},{"week":4,"leaves":4},{"week":4,"leaves":5},{"week":4,"leaves":6},{"week":4,"leaves":7},{"week":4,"leaves":8},{"week":4,"leaves":10},{"week":6,"leaves":0},{"week":6,"leaves":1},{"week":6,"leaves":2},{"week":6,"leaves":3},{"week":6,"leaves":4},{"week":6,"leaves":5},{"week":6,"leaves":6},{"week":6,"leaves":7},{"week":6,"leaves":8},{"week":6,"leaves":9},{"week":8,"leaves":0},{"week":8,"leaves":2},{"week":8,"leaves":3},{"week":8,"leaves":4},{"week":8,"leaves":5},{"week":8,"leaves":6},{"week":8,"leaves":7},{"week":8,"leaves":10},{"week":8,"leaves":11}]},
    "mark":{"type":"point","shape":"M0,-1L0.866,0.5L-0.866,0.5Z","size":480,"filled":false,"color":"#ff0000","strokeWidth":1.3,"opacity":1},
    "encoding":{"x":{"field":"week","type":"quantitative","title":null,"scale":{"domain":[1.6,8.4],"nice":false,"zero":false},"axis":{"orient":"bottom","values":[2,3,4,5,6,7,8],"tickSize":12,"labelPadding":20,"title":"Time (weeks)","titleFont":"Liberation Serif","titleFontSize":36,"titleFontWeight":"bold","titleColor":"#000000","titleX":70,"titleY":107,"titleAlign":"center","titleBaseline":"middle"}},
     "y":{"field":"leaves","type":"quantitative","title":null,"scale":{"domain":[-2.38,19.75],"nice":false,"zero":false},"axis":null}}},
   {"data":{"values":[{"week":1.6,"fit":2.25},{"week":8.4,"fit":3.43}]},"mark":{"type":"line","color":"#0000ee","strokeWidth":3},"encoding":{"x":{"field":"week","type":"quantitative","axis":null},"y":{"field":"fit","type":"quantitative","axis":null}}}
  ]},
  {"width":166.4,"height":270,"resolve":{"axis":{"x":"independent","y":"independent"}},"layer":[
   {"data":{"values":[{"variety":"Muzege","treatment":"T(M)","r":"r= 0.2"}]},"layer":[
    {"mark":{"type":"rect","fill":"#ccffcc","stroke":"#000000","strokeWidth":1.3},"encoding":{"x":{"datum":1.6,"type":"quantitative","axis":null},"x2":{"datum":8.4},"y":{"datum":17.455,"type":"quantitative","axis":null},"y2":{"datum":19.75}}},
    {"mark":{"type":"rect","fill":"#ffe5cc","stroke":"#000000","strokeWidth":1.3},"encoding":{"x":{"datum":1.6,"type":"quantitative","axis":null},"x2":{"datum":8.4},"y":{"datum":15.16,"type":"quantitative","axis":null},"y2":{"datum":17.455}}},
    {"mark":{"type":"text","font":"Liberation Sans","fontSize":22,"color":"#111111","align":"center","baseline":"middle"},"encoding":{"x":{"datum":5,"type":"quantitative","axis":null},"y":{"datum":18.6,"type":"quantitative","axis":null},"text":{"field":"variety"}}},
    {"mark":{"type":"text","font":"Liberation Sans","fontSize":22,"color":"#111111","align":"center","baseline":"middle"},"encoding":{"x":{"datum":5,"type":"quantitative","axis":null},"y":{"datum":16.3,"type":"quantitative","axis":null},"text":{"field":"treatment"}}},
    {"mark":{"type":"text","font":"DejaVu Sans","fontSize":21,"color":"#000000","align":"left","baseline":"middle"},"encoding":{"x":{"datum":2.17,"type":"quantitative","axis":null},"y":{"datum":13.5,"type":"quantitative","axis":null},"text":{"field":"r"}}}
   ]},
   {"data":{"values":[{"week":2,"leaves":1},{"week":2,"leaves":2},{"week":2,"leaves":3},{"week":2,"leaves":4},{"week":2,"leaves":5},{"week":4,"leaves":0},{"week":4,"leaves":1},{"week":4,"leaves":2},{"week":4,"leaves":3},{"week":4,"leaves":4},{"week":4,"leaves":5},{"week":4,"leaves":7},{"week":6,"leaves":0},{"week":6,"leaves":2},{"week":6,"leaves":3},{"week":6,"leaves":4},{"week":6,"leaves":5},{"week":6,"leaves":6},{"week":6,"leaves":7},{"week":6,"leaves":8},{"week":8,"leaves":0},{"week":8,"leaves":2},{"week":8,"leaves":3},{"week":8,"leaves":4},{"week":8,"leaves":5},{"week":8,"leaves":6},{"week":8,"leaves":7},{"week":8,"leaves":8},{"week":8,"leaves":10}]},
    "mark":{"type":"point","shape":"M0,-1L0.866,0.5L-0.866,0.5Z","size":480,"filled":false,"color":"#ff0000","strokeWidth":1.3,"opacity":1},
    "encoding":{"x":{"field":"week","type":"quantitative","title":null,"scale":{"domain":[1.6,8.4],"nice":false,"zero":false},"axis":{"orient":"bottom","values":[2,3,4,5,6,7,8],"tickSize":12,"labels":false}},
     "y":{"field":"leaves","type":"quantitative","title":null,"scale":{"domain":[-2.38,19.75],"nice":false,"zero":false},"axis":null}}},
   {"data":{"values":[{"week":1.6,"fit":3.3},{"week":8.4,"fit":4.3}]},"mark":{"type":"line","color":"#0000ee","strokeWidth":3},"encoding":{"x":{"field":"week","type":"quantitative","axis":null},"y":{"field":"fit","type":"quantitative","axis":null}}}
  ]},
  {"width":166.4,"height":270,"resolve":{"axis":{"x":"independent","y":"independent"}},"layer":[
   {"data":{"values":[{"variety":"Muzege","treatment":"T(S)","r":"r= 0.3"}]},"layer":[
    {"mark":{"type":"rect","fill":"#ccffcc","stroke":"#000000","strokeWidth":1.3},"encoding":{"x":{"datum":1.6,"type":"quantitative","axis":null},"x2":{"datum":8.4},"y":{"datum":17.455,"type":"quantitative","axis":null},"y2":{"datum":19.75}}},
    {"mark":{"type":"rect","fill":"#ffe5cc","stroke":"#000000","strokeWidth":1.3},"encoding":{"x":{"datum":1.6,"type":"quantitative","axis":null},"x2":{"datum":8.4},"y":{"datum":15.16,"type":"quantitative","axis":null},"y2":{"datum":17.455}}},
    {"mark":{"type":"text","font":"Liberation Sans","fontSize":22,"color":"#111111","align":"center","baseline":"middle"},"encoding":{"x":{"datum":5,"type":"quantitative","axis":null},"y":{"datum":18.6,"type":"quantitative","axis":null},"text":{"field":"variety"}}},
    {"mark":{"type":"text","font":"Liberation Sans","fontSize":22,"color":"#111111","align":"center","baseline":"middle"},"encoding":{"x":{"datum":5,"type":"quantitative","axis":null},"y":{"datum":16.3,"type":"quantitative","axis":null},"text":{"field":"treatment"}}},
    {"mark":{"type":"text","font":"DejaVu Sans","fontSize":21,"color":"#000000","align":"left","baseline":"middle"},"encoding":{"x":{"datum":2.17,"type":"quantitative","axis":null},"y":{"datum":13.5,"type":"quantitative","axis":null},"text":{"field":"r"}}}
   ]},
   {"data":{"values":[{"week":2,"leaves":0},{"week":2,"leaves":1},{"week":2,"leaves":2},{"week":2,"leaves":3},{"week":2,"leaves":4},{"week":2,"leaves":5},{"week":4,"leaves":0},{"week":4,"leaves":1},{"week":4,"leaves":2},{"week":4,"leaves":3},{"week":4,"leaves":4},{"week":4,"leaves":5},{"week":4,"leaves":6},{"week":6,"leaves":0},{"week":6,"leaves":1},{"week":6,"leaves":2},{"week":6,"leaves":3},{"week":6,"leaves":4},{"week":6,"leaves":5},{"week":6,"leaves":6},{"week":6,"leaves":7},{"week":6,"leaves":8},{"week":8,"leaves":0},{"week":8,"leaves":1},{"week":8,"leaves":2},{"week":8,"leaves":3},{"week":8,"leaves":4},{"week":8,"leaves":5},{"week":8,"leaves":6},{"week":8,"leaves":8},{"week":8,"leaves":9},{"week":8,"leaves":10}]},
    "mark":{"type":"point","shape":"M0,-1L0.866,0.5L-0.866,0.5Z","size":480,"filled":false,"color":"#ff0000","strokeWidth":1.3,"opacity":1},
    "encoding":{"x":{"field":"week","type":"quantitative","title":null,"scale":{"domain":[1.6,8.4],"nice":false,"zero":false},"axis":{"orient":"bottom","values":[2,3,4,5,6,7,8],"tickSize":12,"labelPadding":20}},
     "y":{"field":"leaves","type":"quantitative","title":null,"scale":{"domain":[-2.38,19.75],"nice":false,"zero":false},"axis":{"orient":"right","values":[0,5,10],"tickSize":12,"labels":false}}}},
   {"data":{"values":[{"week":1.6,"fit":2.14},{"week":8.4,"fit":3.98}]},"mark":{"type":"line","color":"#0000ee","strokeWidth":3},"encoding":{"x":{"field":"week","type":"quantitative","axis":null},"y":{"field":"fit","type":"quantitative","axis":null}}}
  ]}
]},
{"width":430,"height":651,"view":{"stroke":null},
 "data":{"values":[
  {"line":0,"label":"KEY","kind":"head"},
  {"line":2,"label":"Varieties","kind":"head"},
  {"line":3,"label":"▪ Tz 130","kind":"item"},
  {"line":4,"label":"▪ Nachinyaya","kind":"item"},
  {"line":5,"label":"▪ Muzege","kind":"item"},
  {"line":8,"label":"Treatments","kind":"head"},
  {"line":9,"label":"▪ CON – Control","kind":"item"},
  {"line":10,"label":"▪ CT(M) –  Chemotherapy +","kind":"item"},
  {"line":11,"label":"Thermotherapy","kind":"item"},
  {"line":12,"label":"▪ CTS – Chemotherapy +","kind":"item"},
  {"line":13,"label":"Thermotherapy + Subculturing","kind":"item"},
  {"line":14,"label":"▪ T(M) –  Thermotherapy","kind":"item"},
  {"line":15,"label":"▪ T(S) –  Thermotherapy + Subculturing","kind":"item"},
  {"line":16,"label":"– Number of plants","kind":"plants"}
 ]},
 "layer":[
  {"transform":[{"filter":"datum.kind == 'head'"}],
   "mark":{"type":"text","font":"Lato","fontSize":25,"fontWeight":"bold","color":"#404040","align":"left","baseline":"middle"},
   "encoding":{"x":{"datum":0,"type":"quantitative","scale":{"domain":[0,100],"nice":false,"zero":false},"axis":null},"y":{"field":"line","type":"quantitative","scale":{"domain":[-2.727,17],"reverse":true,"nice":false,"zero":false},"axis":null},"text":{"field":"label"}}},
  {"transform":[{"filter":"datum.kind == 'item'"}],
   "mark":{"type":"text","font":"Lato","fontSize":25,"color":"#404040","align":"left","baseline":"middle"},
   "encoding":{"x":{"datum":0,"type":"quantitative","axis":null},"y":{"field":"line","type":"quantitative","axis":null},"text":{"field":"label"}}},
  {"transform":[{"filter":"datum.kind == 'plants'"}],
   "mark":{"type":"text","font":"Lato","fontSize":25,"color":"#404040","align":"left","baseline":"middle","dy":12},
   "encoding":{"x":{"datum":22.1,"type":"quantitative","axis":null},"y":{"field":"line","type":"quantitative","axis":null},"text":{"field":"label"}}},
  {"transform":[{"filter":"datum.kind == 'plants'"}],
   "mark":{"type":"text","font":"DejaVu Sans","fontSize":30,"fill":"#f6dede","stroke":"#b8322c","strokeWidth":2,"align":"left","baseline":"middle","dy":12},
   "encoding":{"x":{"datum":1.6,"type":"quantitative","axis":null},"y":{"field":"line","type":"quantitative","axis":null},"text":{"value":"▲▲▲"}}},
  {"transform":[{"filter":"datum.line == 0"}],
   "mark":{"type":"rule","color":"#404040","strokeWidth":1.5},
   "encoding":{"x":{"datum":0,"type":"quantitative","axis":null},"x2":{"datum":10.5},"y":{"datum":0.42,"type":"quantitative","axis":null}}}
 ]}
],
"config":{
 "view":{"stroke":"#000000","strokeWidth":1.3},
 "axis":{"grid":false,"domain":false,"tickColor":"#000000","tickWidth":1.3,"labelFont":"Liberation Sans","labelFontSize":24,"labelColor":"#222222","labelOverlap":false,"labelFlush":false,"labelBound":false},
 "concat":{"spacing":0}
}
}
